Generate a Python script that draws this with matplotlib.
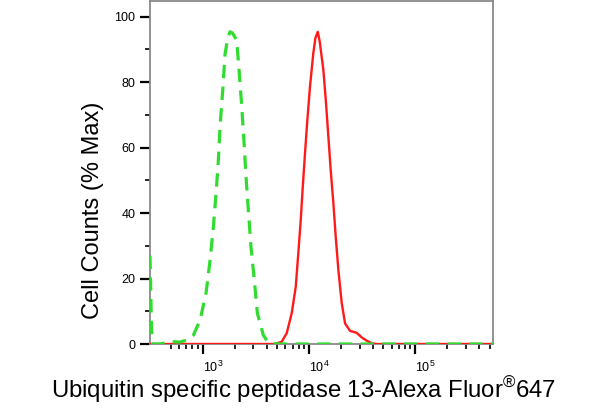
import matplotlib
matplotlib.use("Agg")
import matplotlib.pyplot as plt
from matplotlib.ticker import FixedLocator, NullFormatter

plt.rcParams['font.family'] = ['Liberation Sans', 'DejaVu Sans']
plt.rcParams['mathtext.fontset'] = 'custom'
plt.rcParams['mathtext.rm'] = 'Liberation Sans'
plt.rcParams['mathtext.it'] = 'Liberation Sans:italic'
plt.rcParams['mathtext.bf'] = 'Liberation Sans:bold'

# ---- data (fluorescence intensity, % of max) ----
green_x = [319, 324, 328, 333, 339, 398, 492, 611, 708, 817, 944, 1074, 1172, 1259,
           1334, 1403, 1455, 1542, 1622, 1718, 1807, 1905, 2089, 2208, 2328, 2449,
           2553, 2685, 2844, 3055, 3266, 3715, 4140, 5012, 31623, 538000]
green_y = [27, 17, 8, 1, 0, 0, 0.7, 0.6, 1.2, 2.7, 7.3, 15.5, 25.6, 35.8,
           46, 56.2, 66.4, 77.6, 88.6, 93.5, 95.4, 95, 92.8, 82.6, 72.5, 61.3,
           51.1, 40.9, 29.7, 19.5, 9.4, 2.7, 0.4, 0, 0, 0]

red_x = [319, 4786, 5534, 6166, 6871, 7499, 7925, 8356, 8730, 9162, 9638, 10209,
         10965, 11482, 12078, 12589, 13646, 14454, 15205, 15996, 16943, 17824,
         18880, 20324, 21827, 24322, 26915, 28119, 31333, 34914, 39175, 43351, 538000]
red_y = [0, 0, 0.7, 3.3, 9.4, 17.5, 27.7, 37.9, 48, 58.2, 68.4, 78.6,
         88.8, 93.5, 95.4, 92.5, 83.7, 73.5, 63.3, 53.1, 43, 32.8,
         22.6, 12.4, 6.3, 4.0, 3.6, 3.4, 2.0, 1.0, 0.2, 0, 0]

x_major = [1e3, 1e4, 1e5]
x_major_labels = [r'$10^{3}$', r'$10^{4}$', r'$10^{5}$']
x_minor = [500, 600, 700, 800, 900,
           2000, 3000, 4000, 5000, 6000, 7000, 8000, 9000,
           20000, 30000, 40000, 50000, 60000, 70000, 80000, 90000,
           200000, 300000, 400000, 500000]
y_major = [0, 20, 40, 60, 80, 100]
y_minor = [10, 30, 50, 70, 90]

x_label = 'Ubiquitin specific peptidase 13-Alexa Fluor$^{®}$647'
y_label = 'Cell Counts (% Max)'

fig = plt.figure(figsize=(6.07, 4.15), dpi=100)
ax = fig.add_axes([150/607, 1 - 344/415, (493-150)/607, (344-1)/415])

ax.plot(red_x, red_y, color='#ff1a1a', lw=1.7, zorder=3)
ax.plot(green_x, green_y, color='#2fdc2f', lw=2.3, linestyle=(0, (4.2, 2.6)), zorder=4)

ax.set_xscale('log')
ax.set_xlim(319, 538000)
ax.set_ylim(0, 104.8)

ax.xaxis.set_major_locator(FixedLocator(x_major))
ax.set_xticklabels(x_major_labels)
ax.xaxis.set_minor_locator(FixedLocator(x_minor))
ax.xaxis.set_minor_formatter(NullFormatter())
for lab in ax.get_xticklabels():
    lab.set_horizontalalignment('left')

ax.yaxis.set_major_locator(FixedLocator(y_major))
ax.yaxis.set_minor_locator(FixedLocator(y_minor))
ax.set_yticklabels([str(v) for v in y_major])

ax.tick_params(axis='both', which='major', length=7.5, width=1.6, color='black',
               labelsize=9, direction='out')
ax.tick_params(axis='both', which='minor', length=3.5, width=1.2, color='black',
               direction='out')
ax.tick_params(axis='x', which='major', pad=4)
ax.tick_params(axis='y', which='major', pad=3)

for s in ax.spines.values():
    s.set_color('#8a8a8a')
    s.set_linewidth(1.3)

fig.text(304/607, 1 - 390/415, x_label, ha='center', va='center', fontsize=17.2)
fig.text(93/607, 1 - 210/415, y_label, ha='center', va='center', rotation=90, fontsize=17)

fig.savefig('out.png', dpi=100)
